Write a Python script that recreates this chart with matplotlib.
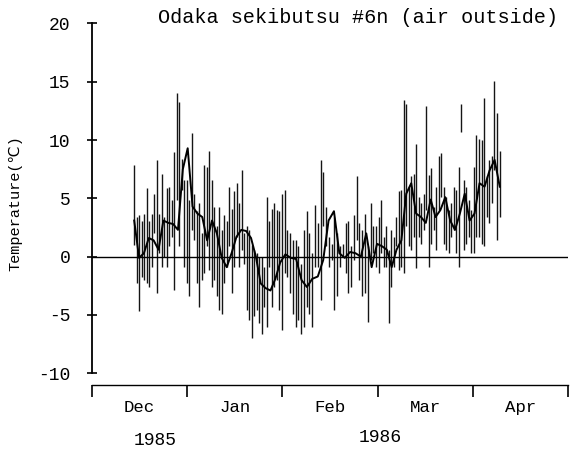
import matplotlib
matplotlib.use("Agg")
import matplotlib.pyplot as plt
import numpy as np
import pandas as pd

# daily max / min bars (deg C), in time order
tmax = [7.9, 3.4, 3.6, 3.1, 3.7, 5.9, 3.1, 3.7, 5.4, 8.3, 3.7, 7.1, 3.4, 5.9, 6.0, 4.9, 9.0,
        14.0, 13.3, 8.4, 6.6, 6.6, 4.9, 10.6, 5.4, 3.9, 4.6, 2.0, 7.9, 7.7, 9.1, 6.6, 4.3, 2.6,
        4.3, 2.3, 3.6, 3.1, 6.0, 4.1,
        5.6, 6.3, 4.6, 7.4, 2.0, 2.6, 2.3, 1.0, 0.6, 0.3, 0.0, 0.0, -0.9, 5.1, 3.1, 4.1, 4.6,
        4.0, 3.9, 5.4, 5.7,
        2.3, 2.0, 1.4, 1.4, 0.9, -0.6, 2.3, 3.9, 2.0, 0.3, 4.4, 2.9, 8.3, 7.3, 4.3, 1.7, 1.1,
        3.4, 2.0, 0.9, 1.1, 2.9,
        3.1, 0.9, 3.6, 6.9, 2.9, 2.3, 3.7, 0.9, 4.6, 2.6, 2.6, 3.4, 4.9, 1.7, 2.6, 0.6, 2.3,
        1.7, 3.4, 5.6, 5.7, 13.4,
        13.1, 6.0, 6.9, 7.1, 9.7, 5.1, 4.6, 5.4, 12.9, 7.0, 7.6, 4.3, 6.0, 8.6, 8.9, 6.0, 5.1,
        4.0, 4.6, 6.0, 5.7, 7.7, 13.1,
        6.6, 6.0, 4.9, 4.0, 7.7, 10.4, 10.1, 10.0, 13.6, 6.9, 8.3, 8.6, 15.1, 12.3, 9.1]
tmin = [1.0, -2.3, -4.7, -1.7, -2.0, -2.3, -2.6, -0.9, 2.0, -3.1, 0.3, -0.9, 0.0, -0.9, 0.9, 1.7, -2.9,
        4.9, 0.9, 5.7, -0.9, -2.3, -3.4, 2.3, 1.4, -2.3, -4.3, -2.0, -1.4, 0.9, -1.1, -2.6, -2.0,
        -3.4, -4.6, -4.9, -2.3, -0.9, 0.9, -3.1,
        -0.9, 1.7, -0.9, 0.6, -0.6, -4.6, -5.4, -7.0, -5.1, -4.6, -5.7, -6.6, -4.3, -6.0, -0.9,
        -4.3, -2.6, -2.0, -4.6, -6.3, -1.4,
        -1.7, -3.1, -4.9, -6.0, -5.4, -6.6, -6.0, -4.3, -4.9, -6.0, -0.9, -0.9, -3.7, 2.6, 0.9,
        -0.9, -0.3, -4.6, -3.4, -0.9, 0.0, -1.4,
        -3.1, -2.6, -0.3, 1.4, -2.0, -3.4, -3.1, -5.6, -0.3, 0.3, -0.9, -1.4, 0.3, -0.9, -0.9,
        -5.7, -2.6, -0.9, 0.9, -1.1, -0.9, -1.4,
        2.6, 0.9, 0.6, 1.7, -1.0, 1.7, 1.1, 2.3, 4.0, -0.9, 1.1, 2.3, 0.6, 4.0, 5.1, 1.1, 0.6,
        0.3, 1.7, 2.3, 0.3, -0.9, 10.7,
        0.6, 1.1, 1.7, 0.3, 0.3, 1.7, 1.7, 1.1, 0.9, 3.4, 2.9, 4.6, 7.4, 1.4, 3.4]

# running mean curve
tmean = [3.1, -0.1, 0.3, 1.6, 1.4, 0.6, 3.1, 2.9, 2.8, 2.3, 7.5, 9.3, 4.3, 3.7, 3.4, 1.4, 3.1,
         2.0, -0.1, -0.9, 0.3, 1.7, 2.3, 2.2, 1.6, 0.0, -2.3, -2.7, -2.9, -1.9, -0.5, 0.2, -0.1,
         -0.2, -2.0, -2.6, -1.9, -1.7, -0.3, 3.1, 3.9, 0.3, -0.1, 0.4, 0.3, 0.0, 2.0, -0.9, 1.1,
         0.9, 0.6, -0.9, 0.6, 1.4, 5.4, 6.3, 3.7, 3.4, 2.9, 4.9, 3.4, 4.0, 5.1, 3.1, 2.3, 3.7,
         5.4, 3.1, 3.7, 6.3, 6.0, 7.4, 8.3, 6.0]

months = ["Dec", "Jan", "Feb", "Mar", "Apr"]
yticks = [20, 15, 10, 5, 0, -5, -10]
start, end = "1985-12-14 18:00", "1986-04-09 12:00"


def month_pos(times):
    # every month gets the same width on the axis
    idx = (times.year - 1985) * 12 + times.month - 12
    frac = (times.day - 1 + times.hour / 24.0) / times.days_in_month
    return np.asarray(idx + frac, dtype=float)


x_bar = month_pos(pd.date_range(start, end, periods=len(tmax)))
x_mean = month_pos(pd.date_range(start, end, periods=len(tmean)))

font = ["Liberation Mono", "DejaVu Sans Mono", "DejaVu Sans"]
plt.rcParams["font.family"] = font

fig = plt.figure(figsize=(5.77, 4.55), dpi=100)
ax = fig.add_axes([0.1594, 0.1796, 0.825, 0.7688])

ax.vlines(x_bar, tmin, tmax, color="#151515", lw=1.0)
ax.plot(x_mean, tmean, color="black", lw=1.4)
ax.axhline(0, color="black", lw=1.0)

ax.set_xlim(0, 5)
ax.set_ylim(-10, 20)
for s in ["top", "right", "bottom"]:
    ax.spines[s].set_visible(False)
ax.spines["left"].set_linewidth(1.3)
ax.set_xticks([])
ax.set_yticks(yticks)
ax.set_yticklabels([str(t) for t in yticks])
ax.tick_params(axis="y", direction="inout", length=7, width=1.2, labelsize=13, pad=12)

# month bracket under the plot
ax.plot([0, 5], [-11.0, -11.0], color="black", lw=1.0, clip_on=False)
ax.vlines(range(6), -12.0, -11.0, color="black", lw=1.2, clip_on=False)
for i, m in enumerate(months):
    ax.text(i + 0.5, -12.9, m, ha="center", va="center", fontsize=12.5, clip_on=False)
ax.text(0.66, -15.8, "1985", ha="center", va="center", fontsize=13, clip_on=False)
ax.text(3.03, -15.5, "1986", ha="center", va="center", fontsize=13, clip_on=False)

fig.text(0.62, 0.962, "Odaka sekibutsu #6n (air outside)", ha="center", va="center",
         fontsize=14.5)
fig.text(0.026, 0.554, "Temperature(℃)", rotation=90, ha="center", va="center", fontsize=11)

fig.savefig("out.png", dpi=100)
